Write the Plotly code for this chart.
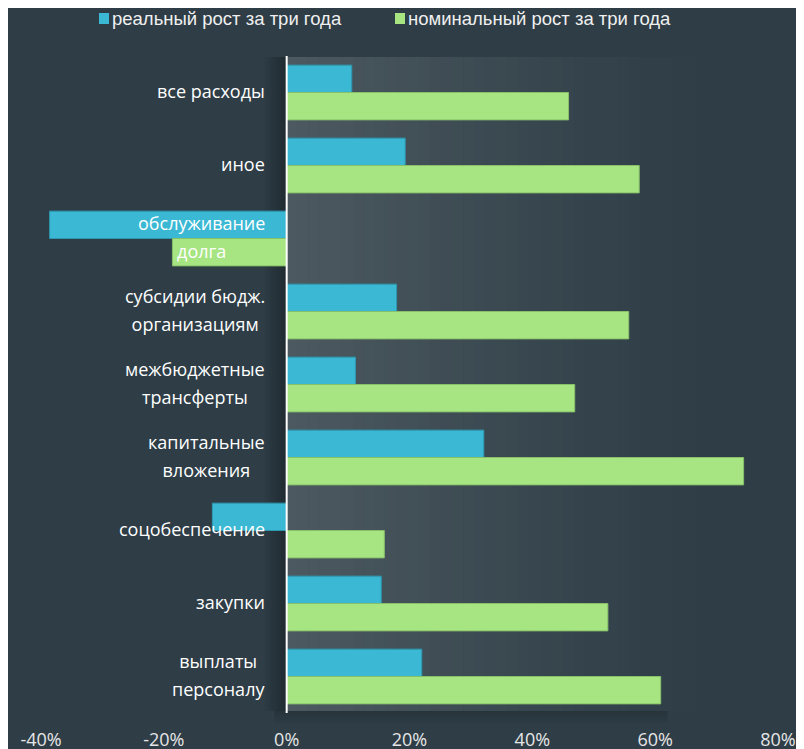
import plotly.graph_objects as go

categories = ['все расходы', 'иное', 'обслуживание<br>долга', 'субсидии бюдж.<br>организациям',
              'межбюджетные<br>трансферты', 'капитальные<br>вложения', 'соцобеспечение',
              'закупки', 'выплаты<br>персоналу']
real_growth = [10.6, 19.3, -38.6, 17.9, 11.2, 32.1, -12.1, 15.4, 22.0]
nominal_growth = [45.9, 57.4, -18.6, 55.7, 46.9, 74.4, 15.9, 52.3, 60.9]
series_names = ['реальный рост за три года', 'номинальный рост за три года']
x_ticks = [-40, -20, 0, 20, 40, 60, 80]
x_ticktext = ['-40%', '-20%', '0%', '20%', '40%', '60%', '80%']

BG = '#2e3d46'
BLUE = '#3bb8d4'
GREEN = '#a6e582'

# page is offset by the 8px body margin, so work in page pixels
OFF = 8
W, H = 804, 749
ML, MR, MT, MB = 41 - OFF, 26 + OFF, 56 - OFF, 36 + OFF
PW, PH = W - ML - MR, H - MT - MB


def px_x(p):
    return (p - OFF - ML) / PW


def px_y(p):
    return (H - MB - (p - OFF)) / PH


fig = go.Figure()
fig.add_trace(go.Bar(y=categories, x=real_growth, orientation='h', name=series_names[0],
                     marker=dict(color=BLUE, line=dict(color='#2d98b0', width=1)),
                     showlegend=False))
fig.add_trace(go.Bar(y=categories, x=nominal_growth, orientation='h', name=series_names[1],
                     marker=dict(color=GREEN, line=dict(color='#88c06a', width=1)),
                     showlegend=False))

shapes = []
# light panel fading to the right of zero
n = 40
for i in range(n):
    t0, t1 = i / n, (i + 1) / n
    a = 0.15 * (1 - (t0 + t1) / 2) ** 1.3
    shapes.append(dict(type='rect', xref='x', yref='paper', x0=72 * t0, x1=72 * t1,
                       y0=px_y(711), y1=px_y(57), fillcolor='white', opacity=a,
                       line=dict(width=0), layer='below'))
# shadow left of zero
for i in range(8):
    t = i / 8
    shapes.append(dict(type='rect', xref='x', yref='paper', x0=-3.6 + 3.6 * t,
                       x1=-3.6 + 3.6 * (t + 1 / 8), y0=px_y(711), y1=px_y(57),
                       fillcolor='black', opacity=0.03 + 0.3 * t, line=dict(width=0),
                       layer='below'))
# shadow under panel
for i in range(6):
    shapes.append(dict(type='rect', xref='x', yref='paper', x0=-2, x1=62,
                       y0=px_y(711 + 2 * (i + 1)), y1=px_y(711 + 2 * i),
                       fillcolor='black', opacity=0.14 * (1 - i / 6), line=dict(width=0),
                       layer='below'))
# zero line
shapes.append(dict(type='line', xref='x', yref='paper', x0=0, x1=0, y0=0, y1=1,
                   line=dict(color='white', width=2), layer='above'))

# legend
annotations = []
for sx, col, txt in [(99, BLUE, series_names[0]), (395, GREEN, series_names[1])]:
    shapes.append(dict(type='rect', xref='paper', yref='paper', x0=px_x(sx), x1=px_x(sx + 10),
                       y0=px_y(24), y1=px_y(13), fillcolor=col, line=dict(width=0)))
    annotations.append(dict(xref='paper', yref='paper', x=px_x(sx + 11), y=px_y(19),
                            xanchor='left', yanchor='middle', text=txt, showarrow=False,
                            font=dict(family='Liberation Sans', size=18.5, color='#f0f0f0')))

# category labels: big annotation font for line spacing, smaller glyphs via span
for c in categories:
    txt = '<br>'.join('<span style="font-size:18px">%s</span>' % s for s in c.split('<br>'))
    annotations.append(dict(xref='x', yref='y', x=0, y=c, xanchor='right', yanchor='middle',
                            xshift=-20, yshift=2, text=txt, showarrow=False, align='center',
                            font=dict(family='Open Sans', size=21.5, color='white')))

fig.update_layout(
    width=W, height=H,
    margin=dict(l=ML, r=MR, t=MT, b=MB),
    paper_bgcolor=BG, plot_bgcolor=BG,
    barmode='group', bargap=0.25, bargroupgap=0,
    shapes=shapes, annotations=annotations,
    xaxis=dict(range=[-40, 80], tickmode='array', tickvals=x_ticks, ticktext=x_ticktext,
               showgrid=False, zeroline=False, showline=False, ticks='outside', ticklen=10,
               tickcolor='rgba(0,0,0,0)', automargin=False,
               tickfont=dict(family='Open Sans', size=18, color='#e6e6e6')),
    yaxis=dict(autorange='reversed', showticklabels=False, showgrid=False, zeroline=False,
               showline=False, automargin=False),
)

fig.write_html('out.html')
